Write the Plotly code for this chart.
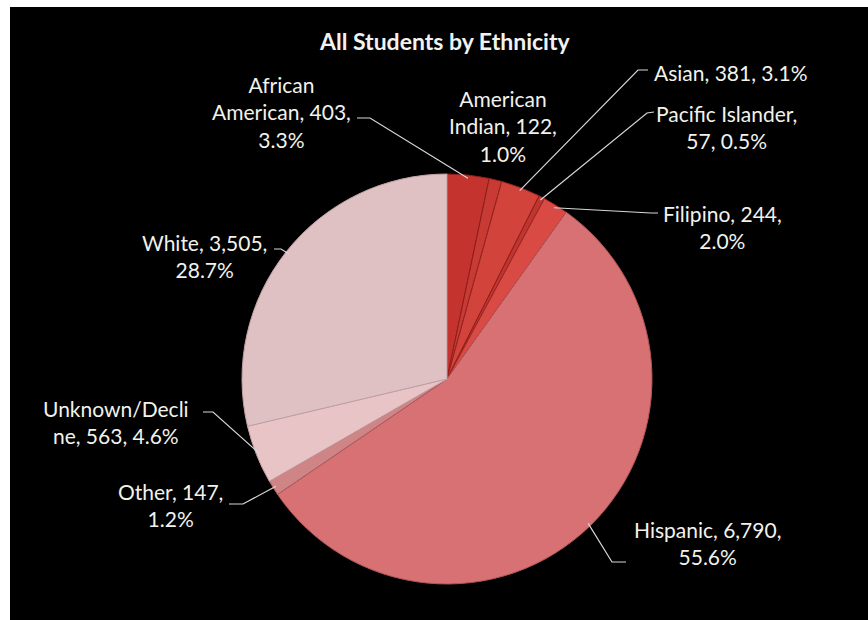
import math
import plotly.graph_objects as go

# Enrollment by ethnicity
categories = ["African American", "American Indian", "Asian", "Pacific Islander",
              "Filipino", "Hispanic", "Other", "Unknown/Decline", "White"]
students = [403, 122, 381, 57, 244, 6790, 147, 563, 3505]
percents = ["3.3%", "1.0%", "3.1%", "0.5%", "2.0%", "55.6%", "1.2%", "4.6%", "28.7%"]

# Label text broken into lines the way the chart wraps them
label_lines = [
    ["African", "American, 403,", "3.3%"],
    ["American", "Indian, 122,", "1.0%"],
    ["Asian, 381, 3.1%"],
    ["Pacific Islander,", "57, 0.5%"],
    ["Filipino, 244,", "2.0%"],
    ["Hispanic, 6,790,", "55.6%"],
    ["Other, 147,", "1.2%"],
    ["Unknown/Decli", "ne, 563, 4.6%"],
    ["White, 3,505,", "28.7%"],
]

colors = ["#c4332e", "#c83a34", "#d2433b", "#c13530", "#da4a44",
          "#d77173", "#cf8486", "#e8c4c7", "#dfc0c3"]
line_colors = ["#8e1f1c", "#8e1f1c", "#962420", "#8e1f1c", "#9a2a26",
               "#b35658", "#a85c5e", "#c9a3a6", "#bfa0a3"]

W, H = 868, 620
CX, CY, R = 447, 379, 205


def px(x):
    return x / W


def py(y):
    return 1 - y / H


# Label block centre (px) and leader-line anchor near the label (px) or None
label_pos = [(281, 112), (503, 126), (730, 73), (726, 127), (722, 227),
             (707, 543), (170, 505), (116, 422), (204, 256)]
leader_anchor = [[(357, 118), (370, 118)], None, [(648, 70), (638, 70)],
                 [(654, 112), (647, 113)], [(658, 213), (651, 213)],
                 [(626, 562), (612, 562)], [(229, 504), (243, 504)],
                 [(203, 412), (213, 412)], [(274, 249), (281, 249)]]

fig = go.Figure()

fig.add_trace(go.Pie(
    labels=categories,
    values=students,
    sort=False,
    direction="clockwise",
    rotation=0,
    textinfo="none",
    hoverinfo="label+value+percent",
    marker=dict(colors=colors, line=dict(color=line_colors, width=1)),
    domain=dict(x=[px(CX - R), px(CX + R)], y=[py(CY + R), py(CY - R)]),
    showlegend=False,
))

shapes = [
    # black chart area inside the white frame
    dict(type="rect", xref="paper", yref="paper", x0=px(10), x1=1, y0=0, y1=py(7),
         fillcolor="black", line=dict(width=0), layer="below"),
]

total = sum(students)
cum = 0
annotations = []
for i, v in enumerate(students):
    mid = (cum + v / 2) / total
    cum += v
    ang = 2 * math.pi * mid
    ex = CX + R * 0.985 * math.sin(ang)
    ey = CY - R * 0.985 * math.cos(ang)
    if leader_anchor[i] is not None:
        (ax, ay), (bx, by) = leader_anchor[i]
        path = f"M {px(ax)} {py(ay)} L {px(bx)} {py(by)} L {px(ex)} {py(ey)}"
        shapes.append(dict(type="path", xref="paper", yref="paper", path=path,
                           line=dict(color="#d8d8d8", width=1.2)))
    lx, ly = label_pos[i]
    annotations.append(dict(
        x=px(lx), y=py(ly), xref="paper", yref="paper",
        text="<br>".join(label_lines[i]), showarrow=False,
        xanchor="center", yanchor="middle", align="center",
        font=dict(family="Lato", size=21, color="#f2f2ec"),
    ))

annotations.append(dict(
    x=px(444), y=py(41), xref="paper", yref="paper",
    text="<b>All Students by Ethnicity</b>", showarrow=False,
    xanchor="center", yanchor="middle",
    font=dict(family="Lato", size=23, color="#f2f2f2"),
))

fig.update_layout(
    width=W, height=H,
    margin=dict(l=0, r=0, t=0, b=0),
    paper_bgcolor="white",
    plot_bgcolor="white",
    shapes=shapes,
    annotations=annotations,
)

fig.write_html("out.html")
